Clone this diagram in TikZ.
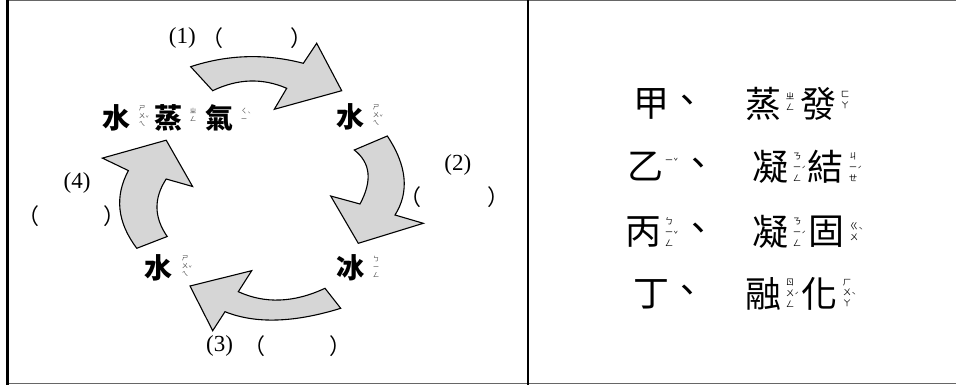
\documentclass[tikz,border=0pt]{standalone}
\usepackage{fontspec}
\setmainfont{Liberation Serif}
\newfontfamily\cjk{Noto Sans CJK TC}
\begin{document}
\begin{tikzpicture}[x=1pt,y=-1pt,
  lc/.style={font=\cjk\bfseries\fontsize{28}{28}\selectfont, inner sep=0pt},
  rc/.style={font=\cjk\fontsize{36}{36}\selectfont, inner sep=0pt},
  zyl/.style={font=\cjk\fontsize{6.5}{8}\selectfont, align=center, inner sep=0pt, text=black!75},
  zyr/.style={font=\cjk\fontsize{8.5}{10.8}\selectfont, align=center, inner sep=0pt},
  tl/.style={font=\cjk\fontsize{5.5}{5.5}\selectfont, inner sep=0pt, anchor=west, text=black!75},
  tr/.style={font=\cjk\fontsize{7.5}{7.5}\selectfont, inner sep=0pt, anchor=west},
  num/.style={font=\fontsize{23}{23}\selectfont, inner sep=0pt},
  paren/.style={font=\cjk\fontsize{22}{22}\selectfont, inner sep=0pt},
  blk/.style={draw=black, line width=1.1pt, fill=black!16, line join=miter}]
\useasboundingbox (0,0) rectangle (956,385);
% frame
\draw[black!60, line width=1pt] (6,0.8) -- (956,0.8);
\draw[black!60, line width=1pt] (6,383.5) -- (956,383.5);
\draw[line width=2.5pt] (7.3,0) -- (7.3,385);
\draw[line width=2.5pt] (528,0) -- (528,385);
% block arrows
\path[blk] (190.7,66.7) .. controls (227.8,54.5) and (265.4,53.4) .. (303.3,63.3) -- (316.7,43.3) -- (341.7,90.7) -- (274.3,109.3) -- (286.7,88.3) .. controls (262.4,77.8) and (237.8,78.6) .. (212.7,90.7) -- cycle;
\path[blk] (387.3,136) .. controls (407,165.7) and (409.5,192) .. (395,215) -- (423.3,223.3) -- (358.3,243.3) -- (330.7,196) -- (360,204) .. controls (372.5,180.7) and (370.6,162.7) .. (354.3,150) -- cycle;
\path[blk] (340.7,308.3) .. controls (293.9,322.8) and (255.3,323.9) .. (225,311.7) -- (212.7,330.7) -- (190,286) -- (251.7,270.7) -- (238.3,291.7) .. controls (265,303.9) and (293.9,302.8) .. (325,288.3) -- cycle;
\path[blk] (136.8,248.3) .. controls (117.2,222.4) and (114.4,196.5) .. (128.4,170.6) -- (102.4,158.1) -- (166.2,140.2) -- (192.6,186.5) -- (166.2,179) .. controls (153.6,198.2) and (153.9,217.4) .. (167.2,236.5) -- cycle;
% left labels
\node[lc] (sq1) at (116.6,118) {水};
\node[zyl] (sq1z) at (142,116) {ㄕ\\ㄨ\\ㄟ};
\node[tl] (sq1t) at ([yshift=-2pt]sq1z.east) {ˇ};
\node[lc] (zh) at (168,118) {蒸};
\node[zyl] (zhz) at (193,115) {ㄓ\\ㄥ};
\node[lc] (qi) at (219.6,118) {氣};
\node[zyl] (qiz) at (244,115) {ㄑ\\ㄧ};
\node[tl] (qit) at ([yshift=1pt]qiz.east) {ˋ};
\node[lc] (sq2) at (350,117) {水};
\node[zyl] (sq2z) at (376,115) {ㄕ\\ㄨ\\ㄟ};
\node[tl] (sq2t) at ([yshift=-2pt]sq2z.east) {ˇ};
\node[lc] (bing) at (350,268) {冰};
\node[zyl] (bingz) at (376,267) {ㄅ\\ㄧ\\ㄥ};
\node[lc] (sq3) at (158.8,268) {水};
\node[zyl] (sq3z) at (185,266) {ㄕ\\ㄨ\\ㄟ};
\node[tl] (sq3t) at ([yshift=-2pt]sq3z.east) {ˇ};
% step numbers and blanks
\node[num] (n1) at (182.4,37.5) {(1)};
\node[paren] (l1) at (212,38) {（};
\node[paren] (r1) at (301,38) {）};
\node[num] (n2) at (457.8,165) {(2)};
\node[paren] (l2) at (410,197) {（};
\node[paren] (r2) at (498,197) {）};
\node[num] (n3) at (219.6,346) {(3)};
\node[paren] (l3) at (254,346) {（};
\node[paren] (r3) at (340,346) {）};
\node[num] (n4) at (77,183) {(4)};
\node[paren] (l4) at (28,216) {（};
\node[paren] (r4) at (114,216) {）};
% right panel
\node[rc] (jia) at (651.7,104) {甲};
\node[rc] (d1) at (687,104) {、};
\node[rc] (a1) at (763.3,104) {蒸};
\node[zyr] (a1z) at (790,102) {ㄓ\\ㄥ};
\node[rc] (a2) at (818,104) {發};
\node[zyr] (a2z) at (845,100) {ㄈ\\ㄚ};
\node[rc] (yi) at (645,167) {乙};
\node[zyr] (yiz) at (669,162) {ㄧ};
\node[tr] (yit) at ([yshift=1pt]yiz.east) {ˇ};
\node[rc] (d2) at (698,167) {、};
\node[rc] (b1) at (770.7,167) {凝};
\node[zyr] (b1z) at (797,167) {ㄋ\\ㄧ\\ㄥ};
\node[tr] (b1t) at ([yshift=-2pt]b1z.east) {ˊ};
\node[rc] (b2) at (825,167) {結};
\node[zyr] (b2z) at (853,167) {ㄐ\\ㄧ\\ㄝ};
\node[tr] (b2t) at ([yshift=-2pt]b2z.east) {ˊ};
\node[rc] (bi) at (643,232) {丙};
\node[zyr] (biz) at (669,232) {ㄅ\\ㄧ\\ㄥ};
\node[tr] (bit) at ([yshift=-2pt]biz.east) {ˇ};
\node[rc] (d3) at (698,232) {、};
\node[rc] (c1) at (770.7,232) {凝};
\node[zyr] (c1z) at (797,232) {ㄋ\\ㄧ\\ㄥ};
\node[tr] (c1t) at ([yshift=-2pt]c1z.east) {ˊ};
\node[rc] (c2) at (826.7,232) {固};
\node[zyr] (c2z) at (854,232) {ㄍ\\ㄨ};
\node[tr] (c2t) at ([yshift=2pt]c2z.east) {ˋ};
\node[rc] (ding) at (651.7,294) {丁};
\node[rc] (d4) at (687,294) {、};
\node[rc] (e1) at (763.3,294) {融};
\node[zyr] (e1z) at (790,293) {ㄖ\\ㄨ\\ㄥ};
\node[tr] (e1t) at ([yshift=-2pt]e1z.east) {ˊ};
\node[rc] (e2) at (819,294) {化};
\node[zyr] (e2z) at (847,293) {ㄏ\\ㄨ\\ㄚ};
\node[tr] (e2t) at ([yshift=-2pt]e2z.east) {ˋ};
\end{tikzpicture}
\end{document}
